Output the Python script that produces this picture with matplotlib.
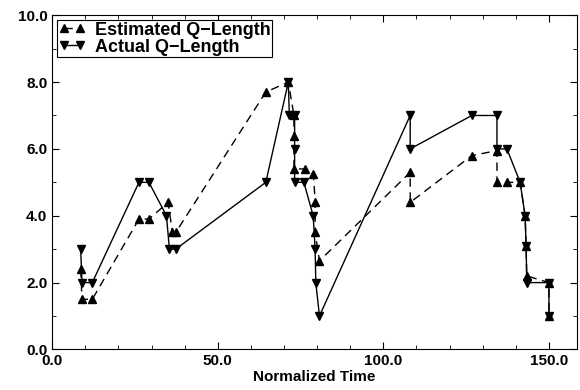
import matplotlib
matplotlib.use('Agg')
import matplotlib.pyplot as plt
from matplotlib.ticker import MultipleLocator, FormatStrFormatter

plt.rcParams['font.family'] = ['Liberation Sans', 'DejaVu Sans']
plt.rcParams['font.weight'] = 'bold'

# Estimated queue length (up triangles, dashed)
est_t = [8.6, 9.0, 12.1, 26.2, 29.2, 35.0, 36.3, 37.3, 64.5, 71.3,
         73.0, 73.0, 73.0, 76.3, 78.9, 79.4, 79.4, 80.7, 108.1, 108.1,
         126.7, 134.3, 134.3, 137.3, 141.3, 142.8, 143.1, 143.3, 150.0, 150.0]
est_q = [2.4, 1.5, 1.5, 3.9, 3.9, 4.4, 3.5, 3.5, 7.7, 8.0,
         7.0, 6.4, 5.4, 5.4, 5.25, 4.4, 3.5, 2.65, 5.3, 4.4,
         5.8, 5.95, 5.0, 5.0, 5.0, 4.0, 3.1, 2.2, 2.0, 1.0]

# Actual queue length (down triangles, solid)
act_t = [8.6, 9.0, 12.1, 26.2, 29.2, 34.5, 35.4, 37.3, 64.5, 71.3,
         71.6, 73.2, 73.2, 73.2, 76.0, 78.8, 79.4, 79.6, 80.7, 108.1,
         108.1, 126.7, 134.3, 134.3, 137.3, 141.3, 142.8, 143.1, 143.3, 150.0, 150.0]
act_q = [3.0, 2.0, 2.0, 5.0, 5.0, 4.0, 3.0, 3.0, 5.0, 8.0,
         7.0, 7.0, 6.0, 5.0, 5.0, 4.0, 3.0, 2.0, 1.0, 7.0,
         6.0, 7.0, 7.0, 6.0, 6.0, 5.0, 4.0, 3.1, 2.0, 2.0, 1.0]

fig = plt.figure(figsize=(5.8, 3.9), dpi=100)
ax = fig.add_axes([0.09, 0.104, 0.905, 0.857])

ax.plot(est_t, est_q, color='black', linestyle=(0, (6, 4)), linewidth=1.0,
        marker='^', markersize=6, label='Estimated Q\u2212Length')
ax.plot(act_t, act_q, color='black', linestyle='-', linewidth=1.0,
        marker='v', markersize=6, label='Actual Q\u2212Length')

ax.set_xlim(0, 158.5)
ax.set_ylim(0, 10)
ax.xaxis.set_major_locator(MultipleLocator(50))
ax.xaxis.set_minor_locator(MultipleLocator(10))
ax.yaxis.set_major_locator(MultipleLocator(2))
ax.yaxis.set_minor_locator(MultipleLocator(1))
ax.xaxis.set_major_formatter(FormatStrFormatter('%.1f'))
ax.yaxis.set_major_formatter(FormatStrFormatter('%.1f'))
ax.tick_params(which='both', direction='in', top=True, right=True, labelsize=11)
ax.tick_params(which='major', length=5)
ax.tick_params(which='minor', length=3)

ax.set_xlabel('Normalized Time', fontsize=11, fontweight='bold', labelpad=1)

leg = ax.legend(loc='upper left', fontsize=13, numpoints=2, handlelength=1.5,
                fancybox=False, framealpha=1, edgecolor='black',
                borderpad=0.1, labelspacing=0.0, handletextpad=0.5,
                borderaxespad=0.25)
leg.get_frame().set_linewidth(0.8)

fig.savefig('out.png', dpi=100)
